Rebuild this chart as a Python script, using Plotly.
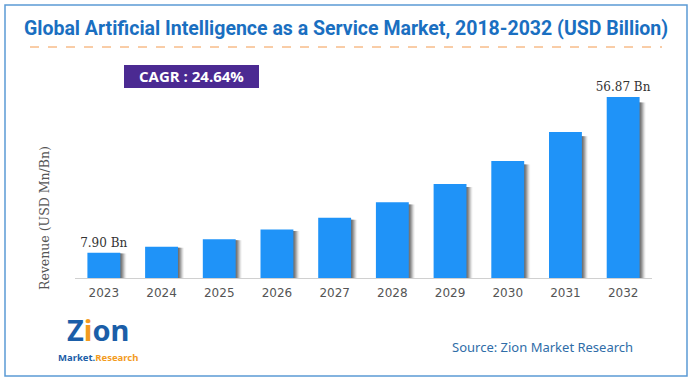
import plotly.graph_objects as go

years = ["2023", "2024", "2025", "2026", "2027", "2028", "2029", "2030", "2031", "2032"]
revenue = [7.90, 9.8, 12.2, 15.2, 18.9, 23.8, 29.5, 36.8, 45.9, 56.87]
bar_labels = ["7.90 Bn", "", "", "", "", "", "", "", "", "56.87 Bn"]
title_text = "Global Artificial Intelligence as a Service Market, 2018-2032 (USD Billion)"
cagr_text = "CAGR : 24.64%"
source_text = "Source: Zion Market Research"
y_title = "Revenue (USD Mn/Bn)"

W, H = 693, 384
L, R, T, B = 75, 652, 80, 278


def px(x):
    return (x - L) / (R - L)


def py(y):
    return (B - y) / (B - T)


bar_w = 0.57
fig = go.Figure()

# soft shadow to the right of each bar
step = 1.0 / 57.7
shadow_alpha = [0.45, 0.38, 0.3, 0.22, 0.14, 0.07]
for k, a in enumerate(shadow_alpha):
    fig.add_trace(go.Bar(
        x=years, y=[v * 0.97 for v in revenue], width=bar_w,
        offset=-bar_w / 2 + (k + 1) * step,
        marker=dict(color=f"rgba(90,90,90,{a})", line=dict(width=0)),
        hoverinfo="skip", showlegend=False,
    ))

fig.add_trace(go.Bar(
    x=years, y=revenue, width=bar_w, offset=-bar_w / 2,
    marker=dict(color="#1f93f8", line=dict(width=0)),
    text=bar_labels, textposition="outside", cliponaxis=False,
    constraintext="none",
    textfont=dict(family="DejaVu Serif", size=12, color="#333333"),
    showlegend=False,
))

ymax = 56.87 * (B - T) / (278 - 97)

fig.update_layout(
    width=W, height=H,
    margin=dict(l=L, r=W - R, t=T, b=H - B),
    paper_bgcolor="white", plot_bgcolor="white",
    barmode="overlay",
    xaxis=dict(type="category", range=[-0.5, 9.5], showgrid=False,
               showline=True, linecolor="#d0d0d0", linewidth=1,
               ticks="", ticklabelstandoff=4,
               tickfont=dict(family="DejaVu Sans", size=12, color="#555555")),
    yaxis=dict(range=[0, ymax], showgrid=False, showticklabels=False,
               zeroline=False, showline=False),
    shapes=[
        dict(type="rect", xref="paper", yref="paper",
             x0=px(5), x1=px(687), y0=py(376), y1=py(5),
             line=dict(color="#5b9bd5", width=1.5), layer="below"),
        dict(type="line", xref="paper", yref="paper",
             x0=px(30), x1=px(662), y0=py(47), y1=py(47),
             line=dict(color="#f39a4e", width=1, dash="dash")),
        dict(type="rect", xref="paper", yref="paper",
             x0=px(124), x1=px(259), y0=py(88), y1=py(65),
             fillcolor="#4b2a92", line=dict(width=0)),
    ],
    annotations=[
        dict(text=f"<b>{title_text}</b>", xref="paper", yref="paper",
             x=px(346), y=py(28), showarrow=False, xanchor="center", yanchor="middle",
             font=dict(family="Roboto", size=19.5, color="#1a6fc1")),
        dict(text=f"<b>{cagr_text}</b>", xref="paper", yref="paper",
             x=px(191), y=py(76.5), showarrow=False, xanchor="center", yanchor="middle",
             font=dict(family="Open Sans", size=15, color="white")),
        dict(text=y_title, xref="paper", yref="paper",
             x=px(44), y=py(218), showarrow=False, textangle=-90,
             xanchor="center", yanchor="middle",
             font=dict(family="DejaVu Serif", size=12.5, color="#555555")),
        dict(text=source_text, xref="paper", yref="paper",
             x=px(542), y=py(347), showarrow=False, xanchor="center", yanchor="middle",
             font=dict(family="Noto Sans", size=13, color="#2f6da8")),
        dict(text="<b>Z<span style='color:#f39c1f'>i</span>on</b>", xref="paper", yref="paper",
             x=px(98), y=py(329), showarrow=False, xanchor="center", yanchor="middle",
             font=dict(family="Noto Sans", size=29, color="#1b5ea8")),
        dict(text="<b><span style='color:#1b5ea8'>Market.</span><span style='color:#f39c1f'>Research</span></b>",
             xref="paper", yref="paper",
             x=px(98), y=py(357), showarrow=False, xanchor="center", yanchor="middle",
             font=dict(family="Noto Sans", size=9.5, color="#1b5ea8")),
    ],
)

fig.write_html("out.html", config={"displayModeBar": False},
               post_script="document.body.style.margin='0';document.body.style.padding='0';")
